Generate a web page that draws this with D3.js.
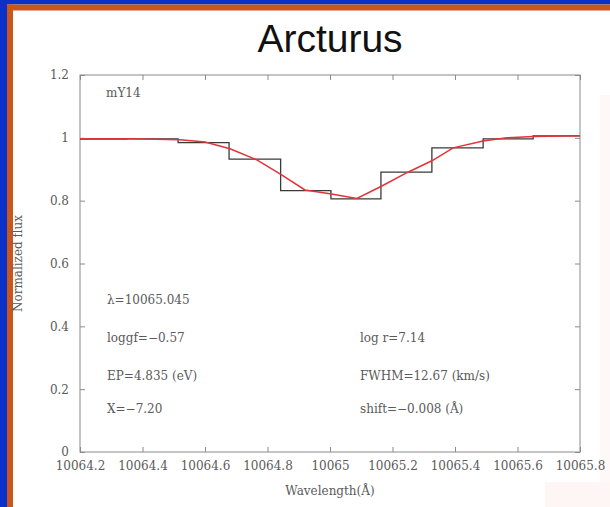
<!DOCTYPE html>
<html>
<head>
<meta charset="utf-8">
<script src="https://cdn.jsdelivr.net/npm/d3@7"></script>
<style>
  html, body { margin: 0; padding: 0; background: #fff; }
  svg { display: block; }
</style>
</head>
<body>
<svg id="chart" width="610" height="507"></svg>
<script>
// Observed spectrum: left edge of each pixel bin and its normalized flux
const binStart = [10064.19, 10064.35, 10064.514, 10064.677, 10064.842, 10065.003, 10065.163, 10065.326, 10065.49, 10065.65, 10065.8];
const observedFlux = [0.996, 0.997, 0.985, 0.932, 0.832, 0.806, 0.891, 0.968, 0.997, 1.006, 1.006];

// Synthetic line profile
const modelWave = [10064.2, 10064.36, 10064.52, 10064.6, 10064.68, 10064.766, 10064.84, 10064.92, 10065.0, 10065.086, 10065.163, 10065.246, 10065.326, 10065.394, 10065.49, 10065.566, 10065.65, 10065.8];
const modelFlux = [0.997, 0.997, 0.994, 0.987, 0.965, 0.930, 0.885, 0.834, 0.822, 0.807, 0.845, 0.889, 0.927, 0.968, 0.990, 1.000, 1.004, 1.007];

const xTicks = [10064.2, 10064.4, 10064.6, 10064.8, 10065, 10065.2, 10065.4, 10065.6, 10065.8];
const yTicks = [0, 0.2, 0.4, 0.6, 0.8, 1, 1.2];

const leftNotes = ["λ=10065.045", "loggf=−0.57", "EP=4.835 (eV)", "X=−7.20"];
const leftNoteY = [0.47, 0.35, 0.23, 0.125];
const rightNotes = ["log r=7.14", "FWHM=12.67 (km/s)", "shift=−0.008 (Å)"];
const rightNoteY = [0.35, 0.23, 0.125];

const svg = d3.select("#chart");
const W = 610, H = 507;
const plot = { left: 80, right: 580, top: 75, bottom: 452 };

// Slide frame
svg.append("rect").attr("x", 0).attr("y", 0).attr("width", W).attr("height", H).attr("fill", "#ffffff");
svg.append("rect").attr("x", 600).attr("y", 95).attr("width", 10).attr("height", 412).attr("fill", "#fef8f8");
svg.append("rect").attr("x", 545).attr("y", 482).attr("width", 65).attr("height", 25).attr("fill", "#fef5f5");
svg.append("rect").attr("x", 0).attr("y", 0).attr("width", W).attr("height", 4.5).attr("fill", "#0a32c8");
svg.append("rect").attr("x", 0).attr("y", 4.5).attr("width", W).attr("height", 6).attr("fill", "#c9571c");
svg.append("rect").attr("x", 0).attr("y", 0).attr("width", 7).attr("height", H).attr("fill", "#0a32c8");
svg.append("rect").attr("x", 7).attr("y", 4.5).attr("width", 6).attr("height", H).attr("fill", "#c9571c");

svg.append("text")
  .attr("x", 330).attr("y", 52)
  .attr("text-anchor", "middle")
  .attr("font-family", "Liberation Sans, Arial, sans-serif")
  .attr("font-size", 39)
  .attr("fill", "#111")
  .text("Arcturus");

const x = d3.scaleLinear().domain([10064.2, 10065.8]).range([plot.left, plot.right]);
const y = d3.scaleLinear().domain([0, 1.2]).range([plot.bottom, plot.top]);

const serif = "DejaVu Serif, Liberation Serif, serif";
const fontSize = 12;
const axisColor = "#8a8a8a";
const textColor = "#5a5a5a";

function styleAxis(g) {
  g.select(".domain").remove();
  g.selectAll(".tick line").attr("stroke", axisColor);
  g.selectAll(".tick text").attr("font-family", serif).attr("font-size", fontSize).attr("fill", textColor);
}

// Bottom and top axes (ticks inward)
svg.append("g").attr("transform", `translate(0,${plot.bottom})`)
  .call(d3.axisBottom(x).tickValues(xTicks).tickFormat(d3.format("")).tickSizeInner(-5).tickSizeOuter(0).tickPadding(9))
  .call(styleAxis);
svg.append("g").attr("transform", `translate(0,${plot.top})`)
  .call(d3.axisTop(x).tickValues(xTicks).tickFormat("").tickSizeInner(-5).tickSizeOuter(0))
  .call(styleAxis);
svg.append("g").attr("transform", `translate(${plot.left},0)`)
  .call(d3.axisLeft(y).tickValues(yTicks).tickFormat(d3.format("")).tickSizeInner(-5).tickSizeOuter(0).tickPadding(11))
  .call(styleAxis);
svg.append("g").attr("transform", `translate(${plot.right},0)`)
  .call(d3.axisRight(y).tickValues(yTicks).tickFormat("").tickSizeInner(-5).tickSizeOuter(0))
  .call(styleAxis);

svg.append("rect")
  .attr("x", plot.left).attr("y", plot.top)
  .attr("width", plot.right - plot.left).attr("height", plot.bottom - plot.top)
  .attr("fill", "none").attr("stroke", axisColor).attr("stroke-width", 1);

svg.append("defs").append("clipPath").attr("id", "plotclip")
  .append("rect").attr("x", plot.left).attr("y", plot.top)
  .attr("width", plot.right - plot.left).attr("height", plot.bottom - plot.top);

const clipped = svg.append("g").attr("clip-path", "url(#plotclip)");

const stepLine = d3.line()
  .x((d, i) => x(binStart[i]))
  .y(d => y(d))
  .curve(d3.curveStepAfter);
clipped.append("path")
  .attr("d", stepLine(observedFlux))
  .attr("fill", "none").attr("stroke", "#3a3a3a").attr("stroke-width", 1.3);

const modelLine = d3.line()
  .x((d, i) => x(modelWave[i]))
  .y(d => y(d));
clipped.append("path")
  .attr("d", modelLine(modelFlux))
  .attr("fill", "none").attr("stroke", "#e2323a").attr("stroke-width", 1.5);

// Line label and fit parameters
svg.append("text").attr("x", 106).attr("y", y(1.13))
  .attr("font-family", serif).attr("font-size", fontSize).attr("fill", textColor).text("mY14");

svg.selectAll(".lnote").data(leftNotes).join("text")
  .attr("x", 107).attr("y", (d, i) => y(leftNoteY[i]))
  .attr("font-family", serif).attr("font-size", fontSize).attr("fill", textColor)
  .text(d => d);
svg.selectAll(".rnote").data(rightNotes).join("text")
  .attr("x", 360).attr("y", (d, i) => y(rightNoteY[i]))
  .attr("font-family", serif).attr("font-size", fontSize).attr("fill", textColor)
  .text(d => d);

// Axis titles
svg.append("text")
  .attr("transform", `translate(22,${(plot.top + plot.bottom) / 2}) rotate(-90)`)
  .attr("text-anchor", "middle")
  .attr("font-family", serif).attr("font-size", fontSize).attr("fill", textColor)
  .text("Normalized flux");
svg.append("text")
  .attr("x", (plot.left + plot.right) / 2).attr("y", 495)
  .attr("text-anchor", "middle")
  .attr("font-family", serif).attr("font-size", fontSize).attr("fill", textColor)
  .text("Wavelength(Å)");
</script>
</body>
</html>
